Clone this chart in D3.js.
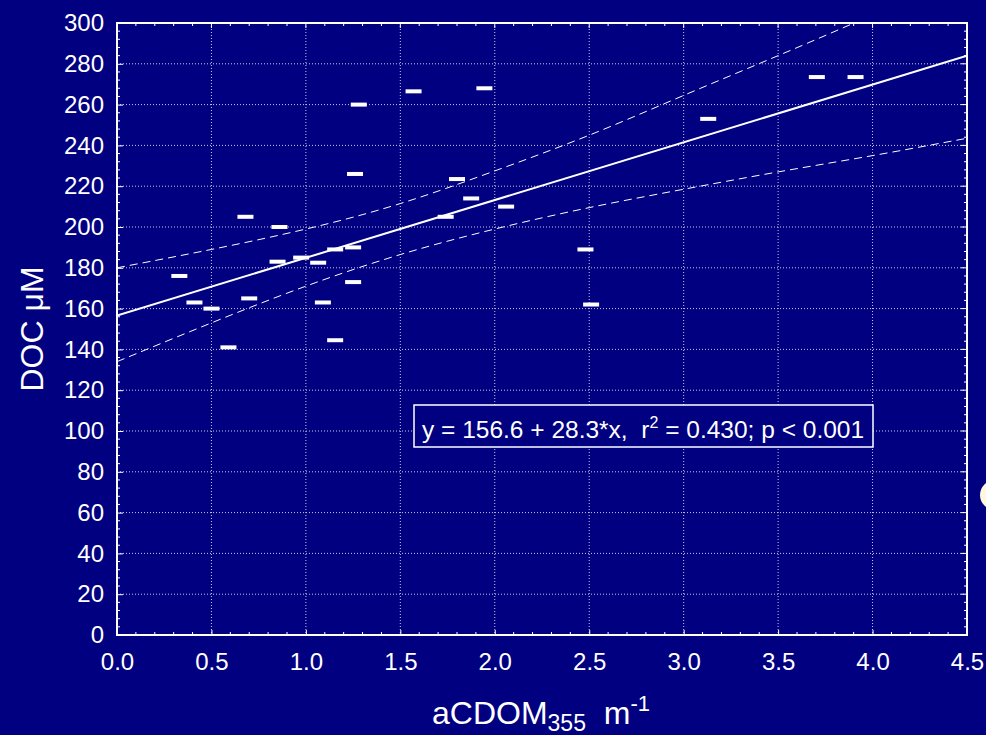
<!DOCTYPE html>
<html>
<head>
<meta charset="utf-8">
<script src="https://cdn.jsdelivr.net/npm/d3@7"></script>
<style>
  html, body { margin: 0; padding: 0; background: #000080; }
  svg { display: block; font-family: "Liberation Sans", Arial, sans-serif; }
</style>
</head>
<body>
<svg id="chart" width="986" height="735"></svg>
<script>
  // points (aCDOM355 m-1, DOC uM)
  const acdom = [0.33, 0.41, 0.50, 0.59, 0.68, 0.70, 0.86, 0.85, 0.975, 1.065,
                 1.09, 1.155, 1.155, 1.25, 1.25, 1.26, 1.28, 1.57, 1.74, 1.80,
                 1.875, 1.945, 2.06, 2.48, 2.51, 3.13, 3.705, 3.91];
  const doc = [176, 163, 160, 141, 205, 165, 200, 183, 185, 182.5,
               163, 189, 144.5, 190, 173, 226, 260, 266.5, 205, 223.5,
               214, 268, 210, 189, 162, 253, 273.5, 273.5];

  // fit line, and the 95% band read at each half unit
  const fitIntercept = 156.6;
  const fitSlope = 28.3;
  const bandX = [0, 0.5, 1.0, 1.5, 2.0, 2.5, 3.0, 3.5, 4.0, 4.5];
  const bandUpper = [180, 189, 199, 211.5, 227.5, 245, 264.5, 284, 304, 325];
  const bandLower = [134, 153, 171, 186.5, 199, 209.5, 218.5, 227, 235, 243.5];

  const xTicks = [0, 0.5, 1.0, 1.5, 2.0, 2.5, 3.0, 3.5, 4.0, 4.5];
  const yTicks = [0, 20, 40, 60, 80, 100, 120, 140, 160, 180, 200, 220, 240, 260, 280, 300];

  var svg = d3.select("#chart");
  // plot edges (pixels)
  var pLeft = 117, pRight = 967, pTop = 23, pBottom = 635;

  var x = d3.scaleLinear().domain([0, 4.5]).range([pLeft, pRight]);
  var y = d3.scaleLinear().domain([0, 300]).range([pBottom, pTop]);

  const white = "#ffffff";
  const gridColor = "#c8c8e8";

  svg.append("defs").append("clipPath").attr("id", "plotClip")
    .append("rect")
    .attr("x", pLeft).attr("y", pTop)
    .attr("width", pRight - pLeft).attr("height", pBottom - pTop);

  // dotted grid
  svg.append("g").selectAll("line")
    .data(xTicks.filter(d => d > 0 && d < 4.5))
    .join("line")
    .attr("x1", d => x(d)).attr("x2", d => x(d))
    .attr("y1", pTop).attr("y2", pBottom)
    .attr("stroke", gridColor).attr("stroke-width", 1)
    .attr("stroke-dasharray", "1,2");

  svg.append("g").selectAll("line")
    .data(yTicks.filter(d => d > 0 && d < 300))
    .join("line")
    .attr("x1", pLeft).attr("x2", pRight)
    .attr("y1", d => y(d)).attr("y2", d => y(d))
    .attr("stroke", gridColor).attr("stroke-width", 1)
    .attr("stroke-dasharray", "1,2");

  // minor ticks on all four sides, pointing inwards
  var xMinor = d3.range(0, 46, 1).map(d => d / 10).filter(d => Math.round(d * 10) % 5 !== 0);
  var yMinor = d3.range(0, 301, 4).filter(d => d % 20 !== 0);

  var ticks = svg.append("g").attr("stroke", white).attr("stroke-width", 1);
  xMinor.forEach(function (d) {
    ticks.append("line").attr("x1", x(d)).attr("x2", x(d)).attr("y1", pBottom).attr("y2", pBottom - 3);
    ticks.append("line").attr("x1", x(d)).attr("x2", x(d)).attr("y1", pTop).attr("y2", pTop + 3);
  });
  yMinor.forEach(function (d) {
    ticks.append("line").attr("x1", pLeft).attr("x2", pLeft + 3).attr("y1", y(d)).attr("y2", y(d));
    ticks.append("line").attr("x1", pRight).attr("x2", pRight - 3).attr("y1", y(d)).attr("y2", y(d));
  });
  xTicks.forEach(function (d) {
    ticks.append("line").attr("x1", x(d)).attr("x2", x(d)).attr("y1", pTop).attr("y2", pTop + 5);
  });
  yTicks.forEach(function (d) {
    ticks.append("line").attr("x1", pRight).attr("x2", pRight - 6).attr("y1", y(d)).attr("y2", y(d));
  });

  // axes with labels
  var xAxis = svg.append("g")
    .attr("transform", "translate(0," + pBottom + ")")
    .call(d3.axisBottom(x).tickValues(xTicks).tickSize(-5).tickPadding(18).tickFormat(d3.format(".1f")));
  var yAxis = svg.append("g")
    .attr("transform", "translate(" + pLeft + ",0)")
    .call(d3.axisLeft(y).tickValues(yTicks).tickSize(-6).tickPadding(13));

  [xAxis, yAxis].forEach(function (a) {
    a.select(".domain").remove();
    a.selectAll(".tick line").attr("stroke", white).attr("stroke-width", 1);
    a.selectAll(".tick text")
      .attr("fill", white)
      .style("font-size", "24px")
      .style("font-family", "'Liberation Sans', Arial, sans-serif");
  });

  // confidence band and fit line
  var plot = svg.append("g").attr("clip-path", "url(#plotClip)");

  var bandLine = d3.line().curve(d3.curveNatural)
    .x(d => x(d[0])).y(d => y(d[1]));

  plot.append("path")
    .attr("d", bandLine(bandX.map((d, i) => [d, bandUpper[i]])))
    .attr("fill", "none").attr("stroke", white).attr("stroke-width", 1)
    .attr("stroke-dasharray", "8,5");
  plot.append("path")
    .attr("d", bandLine(bandX.map((d, i) => [d, bandLower[i]])))
    .attr("fill", "none").attr("stroke", white).attr("stroke-width", 1)
    .attr("stroke-dasharray", "8,5");

  plot.append("line")
    .attr("x1", x(0)).attr("y1", y(fitIntercept))
    .attr("x2", x(4.5)).attr("y2", y(fitIntercept + fitSlope * 4.5))
    .attr("stroke", white).attr("stroke-width", 2);

  // points are short horizontal bars
  svg.append("g").selectAll("rect")
    .data(acdom.map((d, i) => ({ a: d, c: doc[i] })))
    .join("rect")
    .attr("x", d => x(d.a) - 8)
    .attr("y", d => y(d.c) - 2)
    .attr("width", 16).attr("height", 4)
    .attr("fill", white);

  // frame
  svg.append("rect")
    .attr("x", pLeft).attr("y", pTop)
    .attr("width", pRight - pLeft).attr("height", pBottom - pTop)
    .attr("fill", "none").attr("stroke", white).attr("stroke-width", 2);

  // equation box
  var eq = svg.append("g");
  eq.append("rect")
    .attr("x", 414).attr("y", 405).attr("width", 459).attr("height", 42)
    .attr("fill", "#000080").attr("stroke", white).attr("stroke-width", 1.5);
  var eqText = eq.append("text")
    .attr("x", 422).attr("y", 438)
    .attr("fill", white)
    .style("font-size", "24.5px")
    .style("white-space", "pre");
  eqText.append("tspan").text("y = 156.6 + 28.3*x,  r");
  eqText.append("tspan").attr("dy", -10).style("font-size", "16px").text("2");
  eqText.append("tspan").attr("dy", 10).text(" = 0.430; p < 0.001");

  // axis titles
  var xTitle = svg.append("text")
    .attr("x", 432).attr("y", 724)
    .attr("fill", white)
    .style("font-size", "32px")
    .style("white-space", "pre");
  xTitle.append("tspan").text("aCDOM");
  xTitle.append("tspan").attr("dy", 7).style("font-size", "23px").text("355");
  xTitle.append("tspan").attr("dy", -7).text("  m");
  xTitle.append("tspan").attr("dy", -13).style("font-size", "22px").text("-1");

  svg.append("text")
    .attr("transform", "translate(43,329) rotate(-90)")
    .attr("text-anchor", "middle")
    .attr("fill", white)
    .style("font-size", "32px")
    .text("DOC \u03bcM");

  // cut-off disc at the right edge
  svg.append("circle")
    .attr("cx", 995).attr("cy", 495).attr("r", 15)
    .attr("fill", "#fff8dc");
</script>
</body>
</html>
